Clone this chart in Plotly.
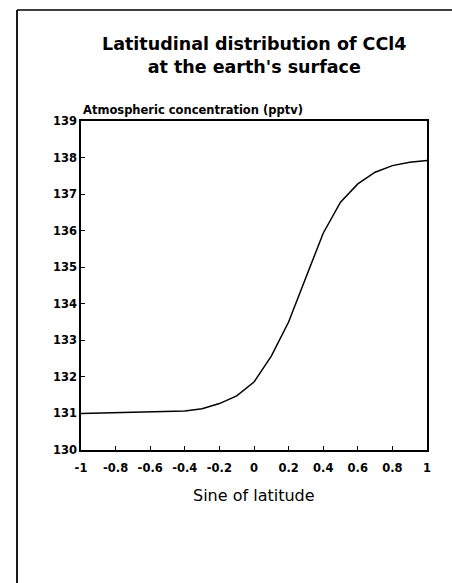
import plotly.graph_objects as go

# Surface CCl4 mixing ratio versus sine of latitude
sine_lat = [-1.0, -0.8, -0.6, -0.4, -0.3, -0.2, -0.1, 0.0, 0.1, 0.2,
            0.3, 0.4, 0.5, 0.6, 0.7, 0.8, 0.9, 1.0]
ccl4_pptv = [131.0, 131.02, 131.03, 131.07, 131.13, 131.27, 131.48, 131.86,
             132.57, 133.5, 134.72, 135.93, 136.78, 137.28, 137.6, 137.78,
             137.87, 137.92]

x_ticks = [-1, -0.8, -0.6, -0.4, -0.2, 0, 0.2, 0.4, 0.6, 0.8, 1]
x_tick_text = ["-1", "-0.8", "-0.6", "-0.4", "-0.2", "0", "0.2", "0.4", "0.6", "0.8", "1"]
y_ticks = [130, 131, 132, 133, 134, 135, 136, 137, 138, 139]

W, H = 452, 583
L, R, T, B = 81, 25, 121, 133
PW, PH = W - L - R, H - T - B


def px(xp):
    return (xp - L) / PW


def py(yp):
    return (H - B - yp) / PH


FONT = "DejaVu Sans"

fig = go.Figure()
fig.add_trace(go.Scatter(
    x=sine_lat, y=ccl4_pptv, mode="lines",
    line=dict(color="black", width=1.5), showlegend=False,
))

fig.update_layout(
    width=W, height=H,
    margin=dict(l=L, r=R, t=T, b=B),
    paper_bgcolor="white", plot_bgcolor="white",
    font=dict(family=FONT, color="black"),
)

fig.update_xaxes(
    range=[-1, 1], tickvals=x_ticks, ticktext=x_tick_text,
    ticks="inside", ticklen=4, tickwidth=1.2, tickcolor="black",
    showline=True, linecolor="black", linewidth=1.5, mirror=True,
    showgrid=False, zeroline=False, ticklabelstandoff=6,
    tickfont=dict(family=FONT, size=11.5, weight="bold"),
)
fig.update_yaxes(
    range=[130, 139], tickvals=y_ticks,
    ticks="inside", ticklen=4, tickwidth=1.2, tickcolor="black",
    showline=True, linecolor="black", linewidth=1.5, mirror=True,
    showgrid=False, zeroline=False,
    tickfont=dict(family=FONT, size=11.5, weight="bold"),
)

# Title, axis labels
fig.add_annotation(
    text="Latitudinal distribution of CCl4<br>at the earth's surface",
    xref="paper", yref="paper", x=0.5, y=py(32), xanchor="center", yanchor="top",
    showarrow=False, font=dict(family=FONT, size=17.5, weight="bold"),
)
fig.add_annotation(
    text="Atmospheric concentration (pptv)",
    xref="paper", yref="paper", x=px(81), y=py(119), xanchor="left", yanchor="bottom",
    showarrow=False, font=dict(family=FONT, size=11.5, weight="bold"),
)
fig.add_annotation(
    text="Sine of latitude",
    xref="paper", yref="paper", x=0.5, y=py(495), xanchor="center", yanchor="middle",
    showarrow=False, font=dict(family=FONT, size=16),
)

# Outer frame: left and top edges
fig.add_shape(type="line", xref="paper", yref="paper",
              x0=px(17), x1=px(17), y0=py(10), y1=py(H + 5),
              line=dict(color="black", width=1.8))
fig.add_shape(type="line", xref="paper", yref="paper",
              x0=px(17), x1=px(W + 5), y0=py(10), y1=py(10),
              line=dict(color="black", width=1.5))

fig.write_html("out.html")
